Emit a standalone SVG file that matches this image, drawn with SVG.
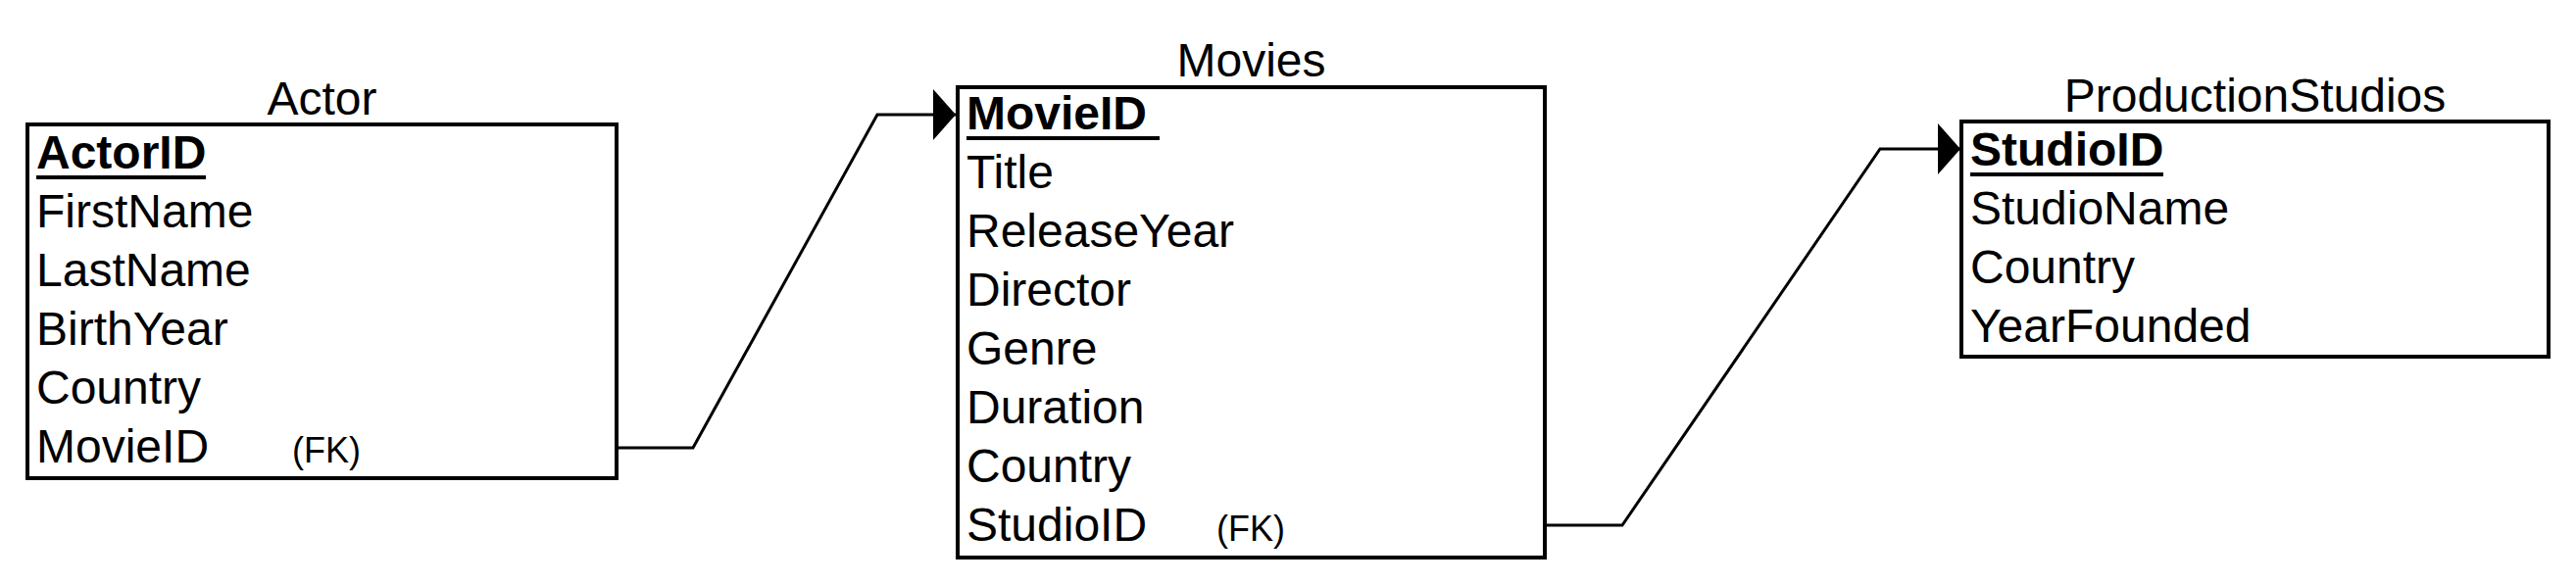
<svg xmlns="http://www.w3.org/2000/svg" width="2628" height="596" viewBox="0 0 2628 596">
  <style>
    .box { fill: #ffffff; stroke: #000000; stroke-width: 4; }
    .title { font-family: "Liberation Sans", Arial, sans-serif; font-size: 48px; fill: #000000; text-anchor: middle; }
    .field { font-family: "Liberation Sans", Arial, sans-serif; font-size: 48px; fill: #000000; }
    .pk { font-family: "Liberation Sans", Arial, sans-serif; font-size: 48px; font-weight: bold; fill: #000000; }
    .fk { font-family: "Liberation Sans", Arial, sans-serif; font-size: 36px; fill: #000000; }
    .ul { fill: #000000; }
    .conn { fill: none; stroke: #000000; stroke-width: 3; stroke-linejoin: miter; }
  </style>
  <defs>
    <marker id="arrow" viewBox="0 0 23 52" refX="23" refY="26" markerWidth="23" markerHeight="52" markerUnits="userSpaceOnUse" orient="auto">
      <path d="M0,0 L23,26 L0,52 Z" fill="#000000"/>
    </marker>
  </defs>
  <rect width="2628" height="596" fill="#ffffff"/>

  <g id="connectors">
    <path class="conn" d="M629,457 L707,457 L895,117 L975,117" marker-end="url(#arrow)"/>
    <path class="conn" d="M1576,536 L1655,536 L1918,152 L2000,152" marker-end="url(#arrow)"/>
  </g>

  <g id="actor">
    <text class="title" x="328.5" y="117">Actor</text>
    <rect class="box" x="28" y="127" width="601" height="361"/>
    <text class="pk" x="37" y="172">ActorID</text>
    <rect class="ul" x="37" y="179" width="173" height="4"/>
    <text class="field" x="37" y="232">FirstName</text>
    <text class="field" x="37" y="292">LastName</text>
    <text class="field" x="37" y="352">BirthYear</text>
    <text class="field" x="37" y="412">Country</text>
    <text class="field" x="37" y="472">MovieID</text>
    <text class="fk" x="298" y="472">(FK)</text>
  </g>

  <g id="movies">
    <text class="title" x="1276.5" y="78">Movies</text>
    <rect class="box" x="977" y="89" width="599" height="480"/>
    <text class="pk" x="986" y="132">MovieID </text>
    <rect class="ul" x="986" y="139" width="197" height="4"/>
    <text class="field" x="986" y="192">Title</text>
    <text class="field" x="986" y="252">ReleaseYear</text>
    <text class="field" x="986" y="312">Director</text>
    <text class="field" x="986" y="372">Genre</text>
    <text class="field" x="986" y="432">Duration</text>
    <text class="field" x="986" y="492">Country</text>
    <text class="field" x="986" y="552">StudioID</text>
    <text class="fk" x="1241" y="552">(FK)</text>
  </g>

  <g id="productionstudios">
    <text class="title" x="2300.5" y="114">ProductionStudios</text>
    <rect class="box" x="2001" y="124" width="599" height="240"/>
    <text class="pk" x="2010" y="169">StudioID</text>
    <rect class="ul" x="2010" y="176" width="197" height="4"/>
    <text class="field" x="2010" y="229">StudioName</text>
    <text class="field" x="2010" y="289">Country</text>
    <text class="field" x="2010" y="349">YearFounded</text>
  </g>
</svg>
